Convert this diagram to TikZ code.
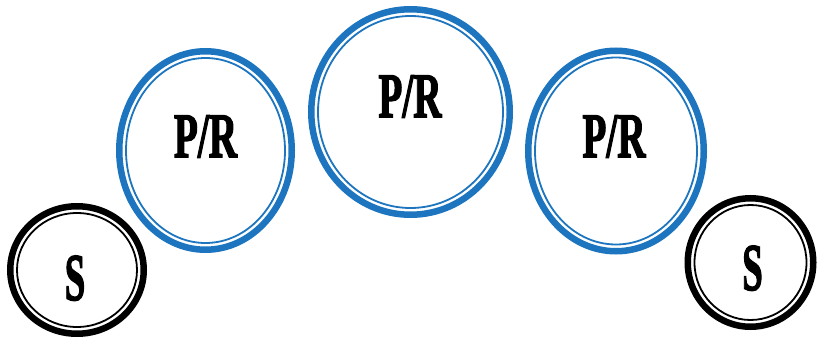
\documentclass[tikz,border=0pt]{standalone}
\usepackage{fontspec}
\setmainfont{Liberation Serif}
\newfontfamily\ringfont[BoldFeatures={FakeBold=2.5}]{Liberation Serif}
\usepackage{xcolor}
\definecolor{ringblue}{RGB}{28,117,190}

\begin{document}
\begin{tikzpicture}[line cap=round,
  outerring/.style={line width=0.13cm},
  innerring/.style={line width=0.036cm},
  prlabel/.style={anchor=base,xscale=0.62,font=\ringfont\fontsize{36}{36}\selectfont\bfseries},
  slabel/.style={anchor=base,xscale=0.55,font=\ringfont\fontsize{38}{38}\selectfont\bfseries}]
\useasboundingbox (0,0) rectangle (16.34,6.78);
% left S
\draw[outerring,black] (1.54,1.38) ellipse (1.335 and 1.275);
\draw[innerring,black] (1.54,1.38) ellipse (1.2 and 1.14);
\node[slabel] (s1) at (1.50,0.78) {S};
% left P/R
\draw[outerring,ringblue] (4.11,3.77) ellipse (1.725 and 1.985);
\draw[innerring,ringblue] (4.11,3.77) ellipse (1.59 and 1.85);
\node[prlabel] (pr1) at (4.11,3.64) {P/R};
% middle P/R
\draw[outerring,ringblue] (8.21,4.54) ellipse (1.985 and 2.055);
\draw[innerring,ringblue] (8.21,4.54) ellipse (1.85 and 1.92);
\node[prlabel] (pr2) at (8.20,4.44) {P/R};
% right P/R
\draw[outerring,ringblue] (12.32,3.76) ellipse (1.755 and 2.005);
\draw[innerring,ringblue] (12.32,3.76) ellipse (1.62 and 1.87);
\node[prlabel] (pr3) at (12.28,3.64) {P/R};
% right S
\draw[outerring,black] (15.01,1.53) ellipse (1.255 and 1.285);
\draw[innerring,black] (15.01,1.53) ellipse (1.12 and 1.15);
\node[slabel] (s2) at (15.05,0.98) {S};
\end{tikzpicture}
\end{document}
